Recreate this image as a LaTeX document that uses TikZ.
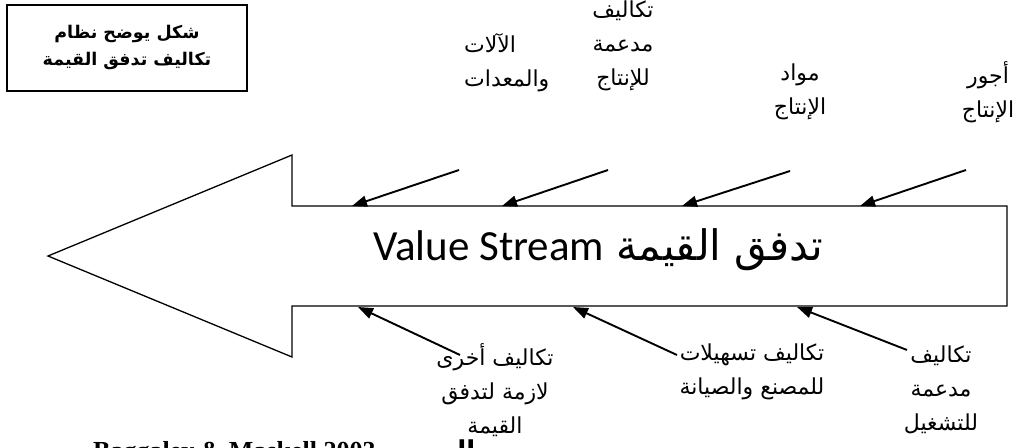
\documentclass[tikz,border=0pt]{standalone}
\usepackage{fontspec}
\setmainfont{Liberation Serif}
\newfontfamily\arabicfont[Script=Arabic]{DejaVu Sans}
\newfontfamily\latinfont{Carlito}
\TeXXeTstate=1
\usetikzlibrary{arrows.meta}
\begin{document}
\begin{tikzpicture}[x=1pt,y=-1pt,
  lbl/.style={font=\arabicfont\fontsize{22}{34}\selectfont, align=center, inner sep=0pt},
  feed/.style={line width=1.9pt, -{Triangle[length=15pt,width=11pt]}},
  outline/.style={line width=1.3pt, line join=miter}]
\useasboundingbox (0,0) rectangle (1032,447);
\clip (0,0) rectangle (1032,447);

% title box
\node[draw, line width=1.5pt, minimum width=240pt, minimum height=86pt, inner sep=0pt,
      font=\arabicfont\bfseries\fontsize{17.5}{27}\selectfont, align=center] (title) at (127,48)
  {\beginR شكل يوضح نظام\endR\\\beginR تكاليف تدفق القيمة\endR};

% big arrow
\draw[outline] (48,256) -- (292,155) -- (292,206) -- (1007,206) -- (1007,306)
  -- (292,306) -- (292,357) -- cycle;
\node[inner sep=0pt, anchor=west] (main) at (373,250)
  {{\latinfont\fontsize{43}{43}\selectfont Value Stream}\hspace{12pt}{\arabicfont\fontsize{42}{42}\selectfont\beginR تدفق القيمة\endR}};

% top labels
\node[lbl] (l1) at (988,92) {\beginR أجور\endR\\\beginR الإنتاج\endR};
\node[lbl] (l2) at (800,92) {\beginR مواد\endR\\\beginR الإنتاج\endR};
\node[lbl] (l3) at (623,46) {\beginR تكاليف\endR\\\beginR مدعمة\endR\\\beginR للإنتاج\endR};
\node[lbl, align=left, anchor=west] (l4) at (464,63) {\beginR الآلات\endR\\\beginR والمعدات\endR};

% bottom labels
\node[lbl] (b1) at (495,390) {\beginR تكاليف أخرى\endR\\\beginR لازمة لتدفق\endR\\\beginR القيمة\endR};
\node[lbl] (b2) at (752,372) {\beginR تكاليف تسهيلات\endR\\\beginR للمصنع والصيانة\endR};
\node[lbl] (b3) at (941,390) {\beginR تكاليف\endR\\\beginR مدعمة\endR\\\beginR للتشغيل\endR};

% source line (cut at bottom)
\node[anchor=base west, inner sep=0pt, font=\bfseries\fontsize{26}{26}\selectfont] (src) at (93,459)
  {Baggaley \& Maskell 2003\hspace{8pt}{\arabicfont\beginR المصدر\endR}};

% connector end points
\coordinate (t1s) at (459,170); \coordinate (t1e) at (352,206);
\coordinate (t2s) at (608,170); \coordinate (t2e) at (502,206);
\coordinate (t3s) at (790,171); \coordinate (t3e) at (682,206);
\coordinate (t4s) at (966,170); \coordinate (t4e) at (860,206);
\coordinate (u1s) at (460,355); \coordinate (u1e) at (358,307);
\coordinate (u2s) at (677,355); \coordinate (u2e) at (573,307);
\coordinate (u3s) at (907,350); \coordinate (u3e) at (797,307);

\draw[feed] (t1s) -- (t1e);
\draw[feed] (t2s) -- (t2e);
\draw[feed] (t3s) -- (t3e);
\draw[feed] (t4s) -- (t4e);
\draw[feed] (u1s) -- (u1e);
\draw[feed] (u2s) -- (u2e);
\draw[feed] (u3s) -- (u3e);
\end{tikzpicture}
\end{document}
